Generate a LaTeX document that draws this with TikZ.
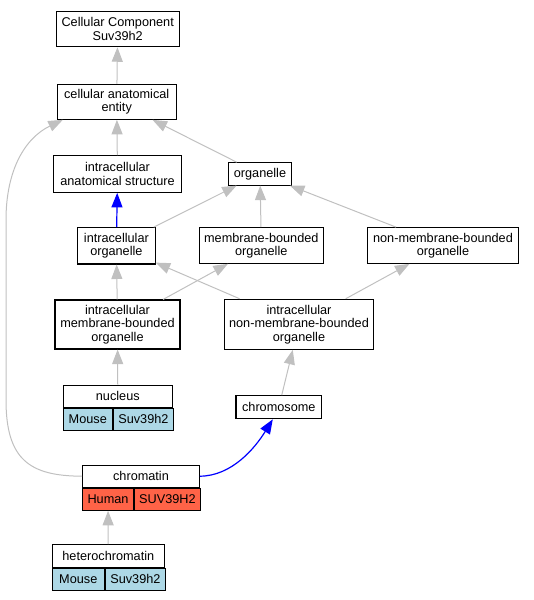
\documentclass[tikz,border=0pt]{standalone}
\usepackage{fontspec}
\setmainfont{Liberation Sans}
\usetikzlibrary{arrows.meta,positioning}
\definecolor{edgegray}{HTML}{C0C0C0}
\definecolor{mouseblue}{HTML}{ADD8E6}
\definecolor{humanred}{HTML}{FF6347}
\begin{document}
\begin{tikzpicture}[x=1pt,y=-1pt,
    term/.style={draw,line width=1.1pt,fill=white,align=center,inner sep=0pt,
      font=\fontsize{12.7}{13.5}\selectfont},
    cell/.style={term,minimum height=21.8pt,anchor=north west},
    isa/.style={-{Triangle[length=14.5pt,width=11pt]},draw=edgegray,line width=1pt},
    partof/.style={-{Triangle[length=14.5pt,width=11pt]},draw=blue,line width=1.2pt}]
  \useasboundingbox (0,0) rectangle (534,600);
  \draw
    (117.7,29.2) node[term,minimum width=123.3pt,minimum height=35pt] (cc){Cellular Component\\Suv39h2}
    (116.7,101.8) node[term,minimum width=118.7pt,minimum height=35pt] (cae){cellular anatomical\\entity}
    (117.5,174) node[term,minimum width=128.4pt,minimum height=36.6pt] (ias){intracellular\\anatomical structure}
    (260,173.9) node[term,minimum width=63.4pt,minimum height=22.3pt] (org){organelle}
    (116.4,245.8) node[term,minimum width=77.3pt,minimum height=36.3pt] (io){intracellular\\organelle}
    (261.3,245.5) node[term,minimum width=124pt,minimum height=35.6pt] (mbo){membrane-bounded\\organelle}
    (443,245.5) node[term,minimum width=150.6pt,minimum height=35.6pt] (nmbo){non-membrane-bounded\\organelle}
    (117.5,324.5) node[term,minimum width=125pt,minimum height=49pt] (imbo){intracellular\\membrane-bounded\\organelle}
    (299,324.3) node[term,minimum width=149.4pt,minimum height=50pt] (inmbo){intracellular\\non-membrane-bounded\\organelle}
    (117.8,396.2) node[term,minimum width=109pt,minimum height=22.3pt] (nuc){nucleus}
    (278.8,407.2) node[term,minimum width=85.7pt,minimum height=23pt] (chs){chromosome}
    (141,476.2) node[term,minimum width=116.6pt,minimum height=22.3pt] (chr){chromatin}
    (108.3,556) node[term,minimum width=112pt,minimum height=22.6pt] (het){heterochromatin};
  % species rows
  \node[cell,fill=mouseblue,minimum width=49pt] (nucA) at (nuc.south west) {Mouse};
  \node[cell,fill=mouseblue,minimum width=60pt] (nucB) at (nucA.north east) {Suv39h2};
  \node[cell,fill=humanred,minimum width=50.6pt] (chrA) at (chr.south west) {Human};
  \node[cell,fill=humanred,minimum width=66pt] (chrB) at (chrA.north east) {SUV39H2};
  \node[cell,fill=mouseblue,minimum width=52pt] (hetA) at (het.south west) {Mouse};
  \node[cell,fill=mouseblue,minimum width=60pt] (hetB) at (hetA.north east) {Suv39h2};
  \begin{scope}[isa]
    \draw (cae) to (cc);
    \draw (ias) to (cae);
    \draw (org) to (cae);
    \draw (io) to (org);
    \draw (mbo) to (org);
    \draw (nmbo) to (org);
    \draw (imbo) to (io);
    \draw (imbo) to (mbo);
    \draw (inmbo) to (io);
    \draw (inmbo) to (nmbo);
    \draw (nuc) to (imbo);
    \draw (chs) to (inmbo);
    \draw (het) to (chrA);
    \draw (chr.west) .. controls (30,476) and (6,460) .. (6,400) -- (6,220)
      .. controls (6,170) and (25,138) .. ([xshift=6pt]cae.south west);
  \end{scope}
  \begin{scope}[partof]
    \draw (io) to (ias);
    \draw (chr.east) .. controls (232,476) and (255,448) .. ([xshift=-6pt]chs.south);
  \end{scope}
\end{tikzpicture}
\end{document}
